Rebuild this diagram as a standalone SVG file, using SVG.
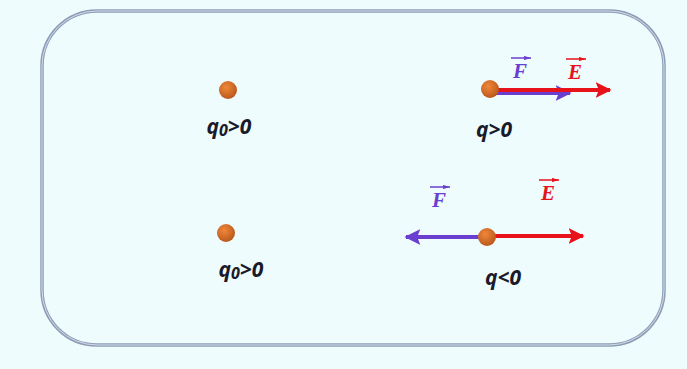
<svg xmlns="http://www.w3.org/2000/svg" width="687" height="369" viewBox="0 0 687 369">
<style>
.lbl{font-family:"Noto Sans","Liberation Sans",sans-serif;font-weight:bold;font-style:italic;font-size:21px;fill:#1a1a2a}
.vec{font-family:"Liberation Serif",serif;font-weight:bold;font-style:italic;font-size:21px}
</style>
<defs>
<radialGradient id="g" cx="0.4" cy="0.35" r="0.7"><stop offset="0" stop-color="#f0883a"/><stop offset="1" stop-color="#b8551a"/></radialGradient>
<marker id="ar" viewBox="0 0 10 10" refX="9" refY="5" markerWidth="4" markerHeight="4" orient="auto-start-reverse"><path d="M0,0L10,5L0,10L2,5Z" fill="#e8121b"/></marker>
<marker id="ap" viewBox="0 0 10 10" refX="9" refY="5" markerWidth="4" markerHeight="4" orient="auto-start-reverse"><path d="M0,0L10,5L0,10L2,5Z" fill="#6a3fcf"/></marker>
<marker id="sm" viewBox="0 0 10 6" refX="10" refY="3" markerWidth="5" markerHeight="3" orient="auto"><path d="M0,0L10,3L0,6Z" fill="context-stroke"/></marker>
</defs>
<rect width="687" height="369" fill="#eefcfd"/>
<rect x="42" y="11" width="622" height="334" rx="55" fill="none" stroke="#8d9db6" stroke-width="3.5"/>
<rect x="42" y="11" width="622" height="334" rx="55" fill="none" stroke="#d4dceb" stroke-width="1"/>
<g id="connectors">
<line x1="490" y1="93" x2="570" y2="93" stroke="#6a3fcf" stroke-width="4" marker-end="url(#ap)"/>
<line x1="490" y1="90" x2="610" y2="90" stroke="#e8121b" stroke-width="4" marker-end="url(#ar)"/>
<line x1="487" y1="237" x2="406" y2="237" stroke="#6a3fcf" stroke-width="4" marker-end="url(#ap)"/>
<line x1="487" y1="236" x2="583" y2="236" stroke="#e8121b" stroke-width="4" marker-end="url(#ar)"/>
</g>
<g id="q0a"><circle cx="228" cy="90" r="9" fill="url(#g)"/><text class="lbl" x="229" y="134" text-anchor="middle">q<tspan font-size="16" dy="2">0</tspan><tspan dy="-2">&gt;0</tspan></text></g>
<g id="q1"><circle cx="490" cy="89" r="9" fill="url(#g)"/><text class="lbl" x="494" y="137" text-anchor="middle">q&gt;0</text></g>
<g id="q0b"><circle cx="226" cy="233" r="9" fill="url(#g)"/><text class="lbl" x="241" y="277" text-anchor="middle">q<tspan font-size="16" dy="2">0</tspan><tspan dy="-2">&gt;0</tspan></text></g>
<g id="q2"><circle cx="487" cy="237" r="9" fill="url(#g)"/><text class="lbl" x="503" y="285" text-anchor="middle">q&lt;0</text></g>
<g id="F1"><text class="vec" x="520" y="78" fill="#6a3fcf" text-anchor="middle">F</text><line x1="511" y1="58" x2="531" y2="58" stroke="#6a3fcf" stroke-width="1.5" marker-end="url(#sm)"/></g>
<g id="E1"><text class="vec" x="575" y="79" fill="#e8121b" text-anchor="middle">E</text><line x1="566" y1="59" x2="586" y2="59" stroke="#e8121b" stroke-width="1.5" marker-end="url(#sm)"/></g>
<g id="F2"><text class="vec" x="439" y="207" fill="#6a3fcf" text-anchor="middle">F</text><line x1="430" y1="187" x2="450" y2="187" stroke="#6a3fcf" stroke-width="1.5" marker-end="url(#sm)"/></g>
<g id="E2"><text class="vec" x="548" y="200" fill="#e8121b" text-anchor="middle">E</text><line x1="539" y1="180" x2="559" y2="180" stroke="#e8121b" stroke-width="1.5" marker-end="url(#sm)"/></g>
</svg>
